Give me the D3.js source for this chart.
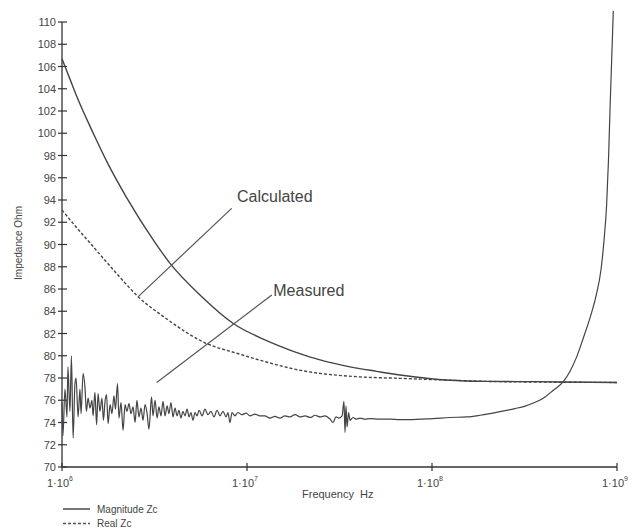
<!DOCTYPE html>
<html>
<head>
<meta charset="utf-8">
<title>Impedance</title>
<script src="https://cdn.jsdelivr.net/npm/d3@7"></script>
<style>
  body { margin: 0; background: #fff; }
  text { font-family: "Liberation Sans", Arial, sans-serif; fill: #444; }
</style>
</head>
<body>
<svg width="637" height="531"></svg>
<script>
// tick values
var yTicks = [70, 72, 74, 76, 78, 80, 82, 84, 86, 88, 90, 92, 94, 96, 98, 100, 102, 104, 106, 108, 110];
var xTicks = [1e6, 1e7, 1e8, 1e9];
var xTickExp = ["6", "7", "8", "9"];

// calculated magnitude Zc (log10 frequency, ohm)
var magLg = [6.0, 6.04, 6.08, 6.169, 6.25, 6.35, 6.494, 6.584, 6.75, 6.926, 7.1, 7.25, 7.4, 7.557, 7.7, 7.827, 8.097, 8.3, 8.546, 9.0];
var magZ  = [106.7, 105.0, 103.3, 100.0, 97.2, 94.2, 90.4, 88.3, 85.4, 82.9, 81.4, 80.4, 79.6, 79.0, 78.6, 78.27, 77.8, 77.7, 77.67, 77.6];

// calculated real Zc
var realLg = [6.0, 6.08, 6.169, 6.3, 6.412, 6.55, 6.782, 6.95, 7.07, 7.286, 7.611, 7.827, 8.1, 8.368, 9.0];
var realZ  = [93.1, 91.5, 89.8, 87.3, 85.3, 83.5, 81.1, 80.2, 79.6, 78.7, 78.1, 77.97, 77.8, 77.67, 77.6];

// measured
var measLg = [6.000, 6.005, 6.016, 6.027, 6.032, 6.043, 6.051, 6.060, 6.070, 6.076, 6.087, 6.097, 6.103, 6.114, 6.124, 6.132,
  6.141, 6.151, 6.162, 6.168, 6.178, 6.187, 6.195, 6.205, 6.216, 6.224, 6.232, 6.241, 6.249, 6.260, 6.270, 6.281, 6.289,
  6.300, 6.308, 6.319, 6.330, 6.341, 6.351, 6.362, 6.373, 6.384, 6.395, 6.405, 6.416, 6.427, 6.438, 6.449, 6.460, 6.470,
  6.484, 6.492, 6.503, 6.514, 6.524, 6.535, 6.546, 6.557, 6.568, 6.578, 6.589, 6.600, 6.611, 6.622, 6.632, 6.643, 6.654,
  6.665, 6.676, 6.687, 6.697, 6.708, 6.719, 6.730, 6.741, 6.757, 6.773, 6.789, 6.805, 6.822, 6.838, 6.854, 6.870, 6.887,
  6.897, 6.908, 6.919, 6.935, 6.951, 6.973, 6.995, 7.016, 7.043, 7.070, 7.097, 7.124, 7.151, 7.178, 7.205, 7.232, 7.260,
  7.287, 7.314, 7.341, 7.368, 7.395, 7.422, 7.449, 7.465, 7.481, 7.497, 7.514, 7.524, 7.530, 7.535, 7.541, 7.549, 7.557,
  7.573, 7.589, 7.611, 7.638, 7.665, 7.719, 7.773, 7.827, 7.881, 7.935, 8.005, 8.097, 8.188, 8.260, 8.368, 8.449, 8.500, 8.548,
  8.611, 8.656, 8.710, 8.746, 8.782, 8.816, 8.854, 8.887, 8.914, 8.930, 8.944, 8.954, 8.962, 8.971, 8.980];
var measZ = [75.8, 72.8, 77.0, 74.5, 79.0, 75.0, 80.0, 72.6, 77.5, 78.0, 74.5, 77.0, 74.8, 78.4, 77.2, 75.0,
  76.2, 75.3, 76.0, 74.6, 76.7, 73.8, 76.6, 75.0, 76.2, 74.2, 75.8, 76.5, 73.9, 75.6, 74.8, 76.4, 75.2,
  77.5, 74.4, 75.8, 73.3, 75.6, 75.0, 75.7, 74.8, 75.4, 74.0, 76.0, 74.5, 75.3, 74.2, 75.6, 74.8, 73.4,
  76.3, 74.6, 76.0, 74.4, 75.4, 74.6, 75.9, 74.6, 75.5, 74.8, 75.8, 74.5, 75.3, 74.6, 75.1, 74.4, 75.0,
  74.6, 75.2, 74.5, 74.9, 74.2, 74.9, 74.6, 75.1, 74.6, 75.2, 74.7, 75.0, 74.5, 75.1, 74.6, 75.0, 74.5,
  74.9, 74.0, 74.9, 74.6, 74.9, 74.7, 74.85, 74.6, 74.75, 74.6, 74.6, 74.4, 74.55, 74.4, 74.6, 74.5, 74.7,
  74.5, 74.6, 74.45, 74.65, 74.5, 74.6, 74.3, 74.0, 74.5, 74.4, 74.6, 75.9, 73.1, 75.5, 73.6, 74.9, 74.2,
  74.45, 74.3, 74.4, 74.3, 74.35, 74.3, 74.3, 74.25, 74.25, 74.3, 74.35, 74.45, 74.5, 74.65, 74.97, 75.25, 75.45, 75.75,
  76.3, 76.9, 77.67, 78.6, 79.9, 81.5, 83.4, 85.4, 87.8, 90.4, 93.6, 97.6, 102.0, 106.5, 111.0];

// annotation callouts (log10 frequency, ohm)
var notes = [
  { text: "Calculated", from: [6.412, 85.31], to: [6.917, 93.25], at: [6.946, 93.8] },
  { text: "Measured",   from: [6.512, 77.6],  to: [7.134, 85.46], at: [7.142, 85.4] }
];

var legendNames = ["Magnitude Zc", "Real Zc"];

var svg = d3.select("svg");

var x = d3.scaleLog().domain([1e6, 1e9]).range([62, 617]);
var y = d3.scaleLinear().domain([70, 110]).range([467, 22]);

function xl(lg) { return x(Math.pow(10, lg)); }

var line = d3.line()
  .x(function(d) { return xl(d[0]); })
  .y(function(d) { return y(d[1]); })
  .curve(d3.curveMonotoneX);

// y axis
var yAxis = svg.append("g").attr("transform", "translate(62,0)")
  .call(d3.axisLeft(y).tickValues(yTicks).tickSize(0).tickPadding(6).tickFormat(d3.format("d")));
yAxis.select(".domain").remove();
yAxis.selectAll("text").attr("font-size", 11).attr("fill", "#444")
  .attr("font-family", "Liberation Sans, Arial, sans-serif");
svg.append("g").selectAll("line").data(yTicks).enter().append("line")
  .attr("x1", 58).attr("x2", 67)
  .attr("y1", function(d) { return y(d); }).attr("y2", function(d) { return y(d); })
  .attr("stroke", "#333").attr("stroke-width", 1.2);
svg.append("line").attr("x1", 62).attr("x2", 62).attr("y1", y(110)).attr("y2", y(70))
  .attr("stroke", "#333").attr("stroke-width", 1.3);

// x axis
svg.append("line").attr("x1", x(1e6)).attr("x2", x(1e9)).attr("y1", y(70)).attr("y2", y(70))
  .attr("stroke", "#333").attr("stroke-width", 1.3);
svg.append("g").selectAll("line").data(xTicks).enter().append("line")
  .attr("x1", function(d) { return x(d); }).attr("x2", function(d) { return x(d); })
  .attr("y1", y(70) - 4).attr("y2", y(70) + 4)
  .attr("stroke", "#333").attr("stroke-width", 1.2);
var xt = svg.append("g").selectAll("text").data(xTicks).enter().append("text")
  .attr("x", function(d) { return x(d) - 15; })
  .attr("y", 487)
  .attr("font-size", 11);
xt.append("tspan").text("1\u00b710");
xt.append("tspan").attr("dy", -6).attr("font-size", 7).text(function(d, i) { return xTickExp[i]; });

// axis titles
svg.append("text").attr("x", 302).attr("y", 498).attr("font-size", 11)
  .style("white-space", "pre").text("Frequency  Hz");
svg.append("text").attr("transform", "translate(21.5,243) rotate(-90)")
  .attr("text-anchor", "middle").attr("font-size", 10).text("Impedance Ohm");

// curves
svg.append("path").datum(d3.zip(magLg, magZ))
  .attr("d", line).attr("fill", "none")
  .attr("stroke", "#444").attr("stroke-width", 1.4);
svg.append("path").datum(d3.zip(realLg, realZ))
  .attr("d", line).attr("fill", "none")
  .attr("stroke", "#444").attr("stroke-width", 1.4).attr("stroke-dasharray", "3,2");
svg.append("path").datum(d3.zip(measLg, measZ))
  .attr("d", line).attr("fill", "none")
  .attr("stroke", "#444").attr("stroke-width", 1.2);

// callouts
notes.forEach(function(n) {
  svg.append("line")
    .attr("x1", xl(n.from[0])).attr("y1", y(n.from[1]))
    .attr("x2", xl(n.to[0])).attr("y2", y(n.to[1]))
    .attr("stroke", "#555").attr("stroke-width", 1.2);
  svg.append("text").attr("x", xl(n.at[0])).attr("y", y(n.at[1]))
    .attr("font-size", 16).text(n.text);
});

// legend
var lg = svg.append("g");
lg.append("line").attr("x1", 63).attr("x2", 90).attr("y1", 509).attr("y2", 509)
  .attr("stroke", "#555").attr("stroke-width", 1.6);
lg.append("line").attr("x1", 63).attr("x2", 90).attr("y1", 523.5).attr("y2", 523.5)
  .attr("stroke", "#555").attr("stroke-width", 1.4).attr("stroke-dasharray", "3,2");
lg.selectAll("text").data(legendNames).enter().append("text")
  .attr("x", 97).attr("y", function(d, i) { return 512.5 + i * 14.5; })
  .attr("font-size", 10).text(function(d) { return d; });
</script>
</body>
</html>
